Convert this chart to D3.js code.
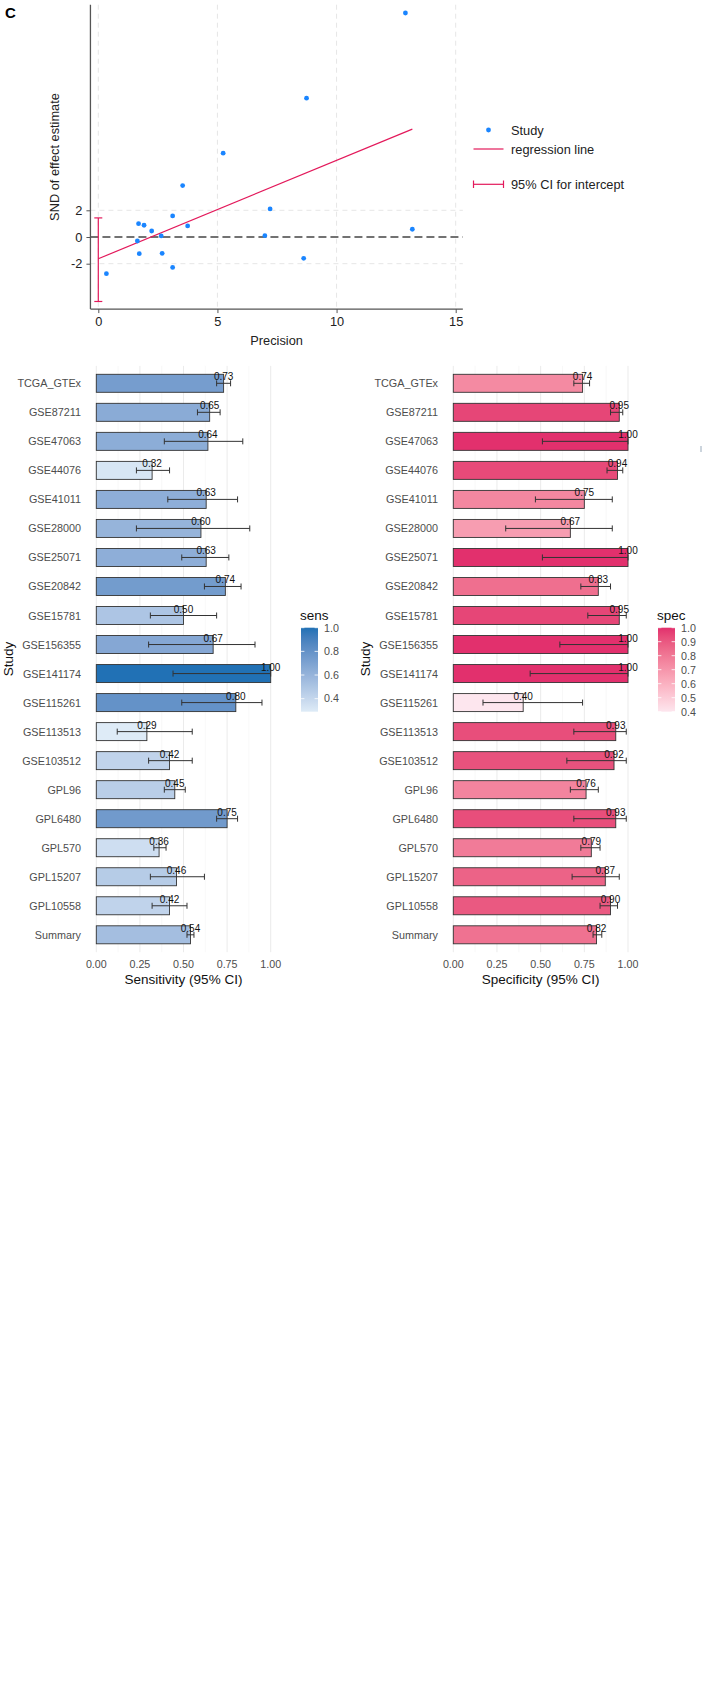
<!DOCTYPE html>
<html>
<head>
<meta charset="utf-8">
<script src="https://cdn.jsdelivr.net/npm/d3@7"></script>
<style>
body { margin: 0; background: #fff; }
svg { display: block; font-family: "Liberation Sans", Arial, sans-serif; }
</style>
</head>
<body>
<svg id="fig" width="708" height="1681"></svg>
<script>
// Egger plot data (one point per study)
var precision = [12.89, 8.74, 5.24, 3.54, 7.21, 3.12, 1.69, 1.92, 3.75, 13.18, 2.24, 2.64, 6.99, 1.64, 1.72, 2.68, 8.62, 3.12, 0.34];
var snd = [16.78, 10.4, 6.28, 3.85, 2.10, 1.58, 1.0, 0.88, 0.83, 0.58, 0.45, 0.08, 0.10, -0.3, -1.25, -1.22, -1.6, -2.28, -2.75];
var regIntercept = -1.63, regSlope = 0.737;
var interceptCI = [-4.83, 1.43];
var precisionTicks = [0, 5, 10, 15];
var sndTicks = [-2, 0, 2];

// forest bar data
var studies = ["TCGA_GTEx","GSE87211","GSE47063","GSE44076","GSE41011","GSE28000","GSE25071","GSE20842","GSE15781","GSE156355","GSE141174","GSE115261","GSE113513","GSE103512","GPL96","GPL6480","GPL570","GPL15207","GPL10558","Summary"];
var sens   = [0.73,0.65,0.64,0.32,0.63,0.60,0.63,0.74,0.50,0.67,1.00,0.80,0.29,0.42,0.45,0.75,0.36,0.46,0.42,0.54];
var sensLo = [0.69,0.58,0.39,0.23,0.41,0.23,0.49,0.62,0.31,0.30,0.44,0.49,0.12,0.30,0.39,0.69,0.33,0.31,0.32,0.52];
var sensHi = [0.77,0.71,0.84,0.42,0.81,0.88,0.76,0.83,0.69,0.91,1.00,0.95,0.55,0.55,0.51,0.81,0.40,0.62,0.52,0.56];
var spec   = [0.74,0.95,1.00,0.94,0.75,0.67,1.00,0.83,0.95,1.00,1.00,0.40,0.93,0.92,0.76,0.93,0.79,0.87,0.90,0.82];
var specLo = [0.69,0.90,0.51,0.88,0.47,0.30,0.51,0.73,0.77,0.61,0.44,0.17,0.69,0.65,0.67,0.69,0.73,0.68,0.84,0.80];
var specHi = [0.78,0.97,1.00,0.97,0.91,0.91,1.00,0.90,0.99,1.00,1.00,0.74,0.99,0.99,0.83,0.99,0.84,0.95,0.94,0.85];
var barTicks = [0, 0.25, 0.5, 0.75, 1.0];
var sensLegendTicks = [0.4, 0.6, 0.8, 1.0];
var specLegendTicks = [0.4, 0.5, 0.6, 0.7, 0.8, 0.9, 1.0];

var svg = d3.select("#fig");
var BLUE = "#1a85ff", PINK = "#e3195b";

// ---------- panel C : Egger regression ----------
var x = d3.scaleLinear().domain([0, 15]).range([98.3, 455.7]);
var y = d3.scaleLinear().domain([-2, 2]).range([263.7, 210.3]);
var xMin = -0.33, xMax = 15.3, yMin = -5.4, yMax = 17.4;
var plainInt = function(d) { return String(d); };   // hyphen minus like Stata

svg.append("text").attr("x", 5).attr("y", 18)
    .style("font-weight", "bold").style("font-size", "15px").text("C");

var egg = svg.append("g");
// light grid
egg.selectAll(".vg").data(precisionTicks).enter().append("line")
    .attr("x1", function(d) { return x(d); }).attr("x2", function(d) { return x(d); })
    .attr("y1", y(yMax)).attr("y2", y(yMin))
    .attr("stroke", "#e6e6e6").attr("stroke-dasharray", "5,4");
egg.selectAll(".hg").data([-2, 2]).enter().append("line")
    .attr("x1", x(xMin)).attr("x2", x(xMax))
    .attr("y1", function(d) { return y(d); }).attr("y2", function(d) { return y(d); })
    .attr("stroke", "#e6e6e6").attr("stroke-dasharray", "5,4");
// zero line
egg.append("line").attr("x1", x(xMin)).attr("x2", x(xMax))
    .attr("y1", y(0)).attr("y2", y(0))
    .attr("stroke", "#444").attr("stroke-width", 1.4).attr("stroke-dasharray", "8,4");

// axes
var xAxis = egg.append("g").attr("transform", "translate(0," + y(yMin) + ")")
    .call(d3.axisBottom(x).tickValues(precisionTicks).tickSize(4).tickPadding(4).tickFormat(plainInt));
var yAxis = egg.append("g").attr("transform", "translate(" + x(xMin) + ",0)")
    .call(d3.axisLeft(y).tickValues(sndTicks).tickSize(4).tickPadding(4).tickFormat(plainInt));
[xAxis, yAxis].forEach(function(a) {
    a.select(".domain").remove();
    a.selectAll(".tick line").attr("stroke", "#555");
    a.selectAll(".tick text").style("font-size", "12.8px").attr("fill", "#222")
        .style("font-family", "'Liberation Sans', Arial, sans-serif");
});
egg.append("line").attr("x1", x(xMin)).attr("x2", x(xMax)).attr("y1", y(yMin)).attr("y2", y(yMin))
    .attr("stroke", "#555").attr("stroke-width", 1.3);
egg.append("line").attr("x1", x(xMin)).attr("x2", x(xMin)).attr("y1", y(yMin)).attr("y2", y(yMax))
    .attr("stroke", "#555").attr("stroke-width", 1.3);

egg.append("text").attr("x", (x(xMin) + x(xMax)) / 2).attr("y", 345)
    .attr("text-anchor", "middle").style("font-size", "12.8px").attr("fill", "#222").text("Precision");
egg.append("text").attr("transform", "translate(59,157) rotate(-90)")
    .attr("text-anchor", "middle").style("font-size", "12.8px").attr("fill", "#222")
    .text("SND of effect estimate");

// CI for intercept
egg.append("line").attr("x1", x(0)).attr("x2", x(0))
    .attr("y1", y(interceptCI[0])).attr("y2", y(interceptCI[1]))
    .attr("stroke", PINK).attr("stroke-width", 1.2);
egg.selectAll(".cap").data(interceptCI).enter().append("line")
    .attr("x1", x(0) - 4).attr("x2", x(0) + 4)
    .attr("y1", function(d) { return y(d); }).attr("y2", function(d) { return y(d); })
    .attr("stroke", PINK).attr("stroke-width", 1.2);
// regression line
var regX = [0, d3.max(precision)];
egg.append("line")
    .attr("x1", x(regX[0])).attr("y1", y(regIntercept + regSlope * regX[0]))
    .attr("x2", x(regX[1])).attr("y2", y(regIntercept + regSlope * regX[1]))
    .attr("stroke", PINK).attr("stroke-width", 1.2);
// points
egg.selectAll(".pt").data(precision).enter().append("circle")
    .attr("cx", function(d) { return x(d); })
    .attr("cy", function(d, i) { return y(snd[i]); })
    .attr("r", 2.4).attr("fill", BLUE);

// legend
var lg = egg.append("g").style("font-size", "12.8px").attr("fill", "#222");
lg.append("circle").attr("cx", 488.5).attr("cy", 130).attr("r", 2.4).attr("fill", BLUE);
lg.append("text").attr("x", 511).attr("y", 134.5).text("Study");
lg.append("line").attr("x1", 473.5).attr("x2", 503.5).attr("y1", 149).attr("y2", 149)
    .attr("stroke", PINK).attr("stroke-width", 1.2);
lg.append("text").attr("x", 511).attr("y", 153.5).text("regression line");
lg.append("line").attr("x1", 473.5).attr("x2", 503.5).attr("y1", 184.3).attr("y2", 184.3)
    .attr("stroke", PINK).attr("stroke-width", 1.2);
[473.5, 503.5].forEach(function(cx) {
    lg.append("line").attr("x1", cx).attr("x2", cx).attr("y1", 180.5).attr("y2", 188)
        .attr("stroke", PINK).attr("stroke-width", 1.2);
});
lg.append("text").attr("x", 511).attr("y", 188.8).text("95% CI for intercept");

// ---------- bar panels ----------
function drawBars(opts) {
    var g = svg.append("g");
    var xs = d3.scaleLinear().domain([0, 1]).range(opts.xr);
    var ys = d3.scalePoint().domain(studies).range([383.3, 934.8]);
    var step = ys.step();
    var bh = step * 0.62;
    var vals = opts.vals;
    var col = d3.scaleLinear().domain([d3.min(vals), d3.max(vals)])
        .range(opts.colors).interpolate(d3.interpolateLab);
    var y0 = ys(studies[0]) - 0.6 * step, y1 = ys(studies[studies.length - 1]) + 0.6 * step;

    // vertical gridlines (minor + major)
    var minor = [0.125, 0.375, 0.625, 0.875];
    g.selectAll(".mi").data(minor).enter().append("line")
        .attr("x1", function(d) { return xs(d); }).attr("x2", function(d) { return xs(d); })
        .attr("y1", y0).attr("y2", y1).attr("stroke", "#f4f4f4").attr("stroke-width", 0.6);
    g.selectAll(".ma").data(barTicks).enter().append("line")
        .attr("x1", function(d) { return xs(d); }).attr("x2", function(d) { return xs(d); })
        .attr("y1", y0).attr("y2", y1).attr("stroke", "#ebebeb").attr("stroke-width", 1);

    // bars
    g.selectAll(".bar").data(studies).enter().append("rect")
        .attr("x", xs(0))
        .attr("y", function(d) { return ys(d) - bh / 2; })
        .attr("width", function(d, i) { return xs(vals[i]) - xs(0); })
        .attr("height", bh)
        .attr("fill", function(d, i) { return col(vals[i]); })
        .attr("stroke", "#333").attr("stroke-width", 0.9);

    // error bars
    var eb = g.selectAll(".eb").data(studies).enter().append("g").attr("stroke", "#333").attr("stroke-width", 1);
    eb.append("line")
        .attr("x1", function(d, i) { return xs(opts.lo[i]); }).attr("x2", function(d, i) { return xs(opts.hi[i]); })
        .attr("y1", function(d) { return ys(d); }).attr("y2", function(d) { return ys(d); });
    eb.append("line")
        .attr("x1", function(d, i) { return xs(opts.lo[i]); }).attr("x2", function(d, i) { return xs(opts.lo[i]); })
        .attr("y1", function(d) { return ys(d) - 3; }).attr("y2", function(d) { return ys(d) + 3; });
    eb.append("line")
        .attr("x1", function(d, i) { return xs(opts.hi[i]); }).attr("x2", function(d, i) { return xs(opts.hi[i]); })
        .attr("y1", function(d) { return ys(d) - 3; }).attr("y2", function(d) { return ys(d) + 3; });

    // value labels
    g.selectAll(".lab").data(studies).enter().append("text")
        .attr("x", function(d, i) { return xs(vals[i]); })
        .attr("y", function(d) { return ys(d) - 3; })
        .attr("text-anchor", "middle").style("font-size", "10px").attr("fill", "#111")
        .text(function(d, i) { return vals[i].toFixed(2); });

    // study labels
    g.selectAll(".st").data(studies).enter().append("text")
        .attr("x", opts.xr[0] - 15.3)
        .attr("y", function(d) { return ys(d) + 4; })
        .attr("text-anchor", "end").style("font-size", "10.8px").attr("fill", "#4d4d4d")
        .text(function(d) { return d; });

    // x tick labels
    g.selectAll(".xt").data(barTicks).enter().append("text")
        .attr("x", function(d) { return xs(d); }).attr("y", 968)
        .attr("text-anchor", "middle").style("font-size", "10.7px").attr("fill", "#4d4d4d")
        .text(function(d) { return d.toFixed(2); });

    g.append("text").attr("x", (xs(0) + xs(1)) / 2).attr("y", 983.5)
        .attr("text-anchor", "middle").style("font-size", "13.5px").attr("fill", "#111")
        .text(opts.title);
    g.append("text").attr("transform", "translate(" + (opts.xr[0] - 83.5) + "," + ((y0 + y1) / 2) + ") rotate(-90)")
        .attr("text-anchor", "middle").style("font-size", "13.5px").attr("fill", "#111")
        .text("Study");

    // colour bar legend
    var lx = opts.legX, lTop = 627.7, lBot = 711.7, lw = 17;
    var ly = d3.scaleLinear().domain([d3.min(vals), d3.max(vals)]).range([lBot, lTop]);
    var gid = "grad_" + opts.name;
    var grad = svg.append("defs").append("linearGradient").attr("id", gid)
        .attr("x1", 0).attr("x2", 0).attr("y1", 1).attr("y2", 0);
    d3.range(0, 1.0001, 0.1).forEach(function(t) {
        var v = ly.domain()[0] + t * (ly.domain()[1] - ly.domain()[0]);
        grad.append("stop").attr("offset", t).attr("stop-color", col(v));
    });
    g.append("text").attr("x", lx - 1).attr("y", 619.5).style("font-size", "13.5px").attr("fill", "#111").text(opts.name);
    g.append("rect").attr("x", lx).attr("y", lTop).attr("width", lw).attr("height", lBot - lTop)
        .attr("fill", "url(#" + gid + ")");
    var lt = g.selectAll(".lt").data(opts.legTicks).enter().append("g");
    lt.append("line").attr("x1", lx).attr("x2", lx + 3.4)
        .attr("y1", function(d) { return ly(d); }).attr("y2", function(d) { return ly(d); })
        .attr("stroke", "#fff").attr("stroke-width", 0.8);
    lt.append("line").attr("x1", lx + lw - 3.4).attr("x2", lx + lw)
        .attr("y1", function(d) { return ly(d); }).attr("y2", function(d) { return ly(d); })
        .attr("stroke", "#fff").attr("stroke-width", 0.8);
    lt.append("text").attr("x", lx + lw + 6).attr("y", function(d) { return ly(d) + 3.8; })
        .style("font-size", "10.7px").attr("fill", "#4d4d4d")
        .text(function(d) { return d.toFixed(1); });
}

drawBars({ name: "sens", xr: [96.3, 270.7], vals: sens, lo: sensLo, hi: sensHi,
    colors: ["#deebf7", "#2171b5"], title: "Sensitivity (95% CI)", legX: 301, legTicks: sensLegendTicks });
drawBars({ name: "spec", xr: [453.3, 628], vals: spec, lo: specLo, hi: specHi,
    colors: ["#fde6ee", "#e2306d"], title: "Specificity (95% CI)", legX: 658, legTicks: specLegendTicks });

// stray mark at right edge
svg.append("line").attr("x1", 701).attr("x2", 701).attr("y1", 446).attr("y2", 452)
    .attr("stroke", "#9ab").attr("stroke-width", 1);
</script>
</body>
</html>
